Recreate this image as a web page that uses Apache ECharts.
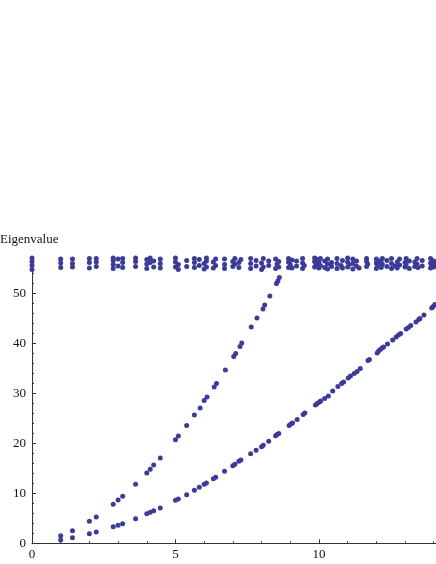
<!DOCTYPE html>
<html>
<head>
<meta charset="utf-8">
<script src="https://cdn.jsdelivr.net/npm/echarts@6/dist/echarts.min.js"></script>
<style>
  html, body { margin: 0; padding: 0; background: #fff; }
  #main { width: 436px; height: 564px; }
</style>
</head>
<body>
<div id="main"></div>
<script>
// lower branch [k, eigenvalue]
let lowerBranch = [
  [1.0, 0.66], [1.41, 1.1], [2.0, 1.93], [2.24, 2.26], [2.83, 3.33], [3.0, 3.6], [3.16, 3.93],
  [3.61, 4.93], [4.0, 5.93], [4.12, 6.2], [4.24, 6.53], [4.47, 7.06], [5.0, 8.6], [5.1, 8.86],
  [5.39, 9.73], [5.66, 10.6], [5.83, 11.2], [6.0, 11.8], [6.08, 12.06], [6.32, 12.9], [6.4, 13.2],
  [6.71, 14.4], [7.0, 15.5], [7.07, 15.8], [7.21, 16.4], [7.28, 16.66], [7.62, 17.9], [7.81, 18.6],
  [8.0, 19.3], [8.06, 19.6], [8.25, 20.4], [8.49, 21.5], [8.54, 21.8], [8.6, 22.0], [8.96, 23.6],
  [9.02, 23.9], [9.08, 24.1], [9.24, 24.8], [9.45, 25.8], [9.51, 26.1], [9.88, 27.7], [9.94, 28.0],
  [10.02, 28.3], [10.06, 28.5], [10.2, 29.0], [10.33, 29.5], [10.48, 30.5], [10.66, 31.4],
  [10.79, 32.0], [10.86, 32.3], [11.02, 33.1], [11.1, 33.5], [11.23, 34.0], [11.33, 34.4],
  [11.44, 35.0], [11.71, 36.6], [11.76, 36.8], [12.03, 38.1], [12.08, 38.5], [12.14, 38.8],
  [12.2, 39.1], [12.25, 39.3], [12.39, 39.9], [12.57, 40.7], [12.69, 41.3], [12.77, 41.7],
  [12.85, 42.0], [13.04, 42.9], [13.12, 43.2], [13.2, 43.6], [13.38, 44.3], [13.48, 44.8],
  [13.52, 45.0], [13.66, 45.7], [13.93, 47.1], [13.98, 47.4], [14.04, 47.8]
];

// upper branch [k, eigenvalue]
let upperBranch = [
  [1.0, 1.5], [1.41, 2.5], [2.0, 4.4], [2.24, 5.26], [2.83, 7.8], [3.0, 8.66], [3.16, 9.4],
  [3.61, 11.8], [4.0, 14.06], [4.12, 14.8], [4.24, 15.66], [4.47, 17.06], [5.0, 20.7], [5.1, 21.46],
  [5.39, 23.6], [5.66, 25.7], [5.86, 27.1], [6.0, 28.6], [6.1, 29.3], [6.35, 31.3], [6.43, 32.0],
  [6.74, 34.7], [7.03, 37.4], [7.1, 38.0], [7.25, 39.4], [7.31, 40.1], [7.64, 43.3], [7.84, 45.1],
  [8.05, 46.9], [8.11, 47.7], [8.29, 49.5], [8.52, 52.0], [8.57, 52.5], [8.62, 53.2]
];

// dense band near the top [k, eigenvalue]
let topBand = [
  [0, 54.8], [0, 55.6], [0, 56.4], [0, 57.1],
  [1.0, 55.2], [1.0, 56.1], [1.0, 56.9], [1.41, 55.3], [1.41, 56.0], [1.41, 56.9],
  [2.0, 55.1], [2.0, 56.2], [2.0, 57.0], [2.24, 55.4], [2.24, 56.3], [2.24, 57.0],
  [2.83, 55.0], [2.83, 55.8], [2.83, 56.6], [2.83, 57.1], [3.0, 55.5], [3.0, 56.9],
  [3.16, 55.2], [3.16, 56.2], [3.16, 57.0], [3.61, 55.4], [3.61, 56.4], [3.61, 57.1],
  [4.0, 55.0], [4.0, 55.9], [4.0, 56.8], [4.12, 56.2], [4.12, 57.1], [4.24, 55.3], [4.24, 56.5],
  [4.47, 55.1], [4.47, 56.0], [4.47, 56.9],
  [5.0, 55.3], [5.0, 56.3], [5.0, 57.1], [5.1, 54.8], [5.1, 55.8], [5.39, 55.4], [5.39, 56.6],
  [5.66, 55.2], [5.66, 56.2], [5.66, 57.0], [5.83, 55.6], [5.83, 56.8], [6.0, 54.9], [6.0, 56.0],
  [6.08, 55.3], [6.08, 56.5], [6.08, 57.1], [6.32, 55.1], [6.32, 56.3], [6.4, 55.6], [6.4, 56.9],
  [6.71, 55.0], [6.71, 55.8], [6.71, 56.9], [7.0, 55.4], [7.0, 56.4], [7.07, 55.9], [7.07, 57.0],
  [7.21, 55.2], [7.21, 56.2], [7.28, 56.8], [7.62, 55.0], [7.62, 56.0], [7.62, 57.0],
  [7.81, 55.5], [7.81, 56.6], [8.0, 54.8], [8.0, 56.1], [8.06, 55.3], [8.06, 57.0],
  [8.25, 55.6], [8.25, 56.5], [8.49, 55.0], [8.49, 56.9], [8.54, 55.9], [8.6, 55.3], [8.6, 56.4],
  [8.94, 55.2], [8.94, 56.3], [8.94, 57.0], [9.0, 55.8], [9.06, 55.1], [9.06, 56.7],
  [9.22, 55.5], [9.22, 56.5], [9.43, 55.0], [9.43, 56.1], [9.43, 57.0], [9.49, 55.6],
  [9.85, 55.3], [9.85, 56.4], [9.85, 57.1], [9.9, 55.9], [9.9, 56.9], [10.0, 55.1], [10.0, 56.3],
  [10.05, 55.6], [10.05, 57.0], [10.2, 55.2], [10.2, 56.5], [10.3, 54.9], [10.3, 55.9], [10.3, 56.9],
  [10.44, 55.4], [10.44, 56.2], [10.63, 55.0], [10.63, 56.0], [10.63, 57.0], [10.77, 55.6],
  [10.82, 55.1], [10.82, 56.6], [11.0, 55.3], [11.0, 56.3], [11.0, 57.1], [11.05, 55.8],
  [11.18, 54.9], [11.18, 56.0], [11.18, 56.9], [11.31, 55.5], [11.31, 56.5], [11.4, 55.1],
  [11.66, 55.4], [11.66, 56.4], [11.66, 57.0], [11.7, 55.9], [12.0, 55.0], [12.0, 56.1], [12.0, 56.9],
  [12.04, 55.6], [12.08, 56.5], [12.17, 55.2], [12.17, 56.2], [12.21, 55.8], [12.21, 57.0],
  [12.37, 55.4], [12.37, 56.6], [12.53, 55.0], [12.53, 56.0], [12.53, 57.0], [12.65, 55.5],
  [12.73, 56.3], [12.73, 55.1], [12.81, 55.7], [12.81, 56.9], [13.0, 55.3], [13.0, 56.2],
  [13.04, 55.8], [13.04, 57.0], [13.15, 55.0], [13.15, 56.5], [13.34, 55.4], [13.34, 56.3],
  [13.42, 55.9], [13.42, 57.0], [13.45, 55.2], [13.6, 55.5], [13.6, 56.6], [13.89, 55.1],
  [13.89, 56.1], [13.89, 57.0], [13.93, 55.7], [14.0, 55.3], [14.0, 56.5], [14.04, 55.9]
];

let dotColor = '#3b3b98';
let axisColor = '#333';
let labelFont = { fontFamily: 'Liberation Serif', fontSize: 13, color: '#111' };

let chart = echarts.init(document.getElementById('main'));

function scatter(data) {
  return {
    type: 'scatter',
    data: data,
    symbolSize: 5,
    itemStyle: { color: dotColor, opacity: 1 },
    xAxisIndex: 0,
    yAxisIndex: 0
  };
}

let option = {
  animation: false,
  title: {
    text: 'Eigenvalue',
    left: 0,
    top: 233,
    padding: 0,
    textStyle: { fontFamily: 'Liberation Serif', fontSize: 13, fontWeight: 'normal', color: '#111' }
  },
  grid: { left: 32, right: 0, top: 256.5, bottom: 20.7 },
  xAxis: [{
    type: 'value', min: 0, max: 14.08, interval: 5, position: 'bottom',
    axisLine: { lineStyle: { color: axisColor, width: 1 } },
    axisTick: { inside: true, length: 4, lineStyle: { color: axisColor } },
    axisLabel: Object.assign({ margin: 5, showMaxLabel: false }, labelFont),
    splitLine: { show: false }
  }, {
    // minor ticks every 1
    type: 'value', min: 0, max: 14.08, interval: 1, position: 'bottom',
    axisLine: { show: false },
    axisTick: { inside: true, length: 2, lineStyle: { color: axisColor } },
    axisLabel: { show: false },
    splitLine: { show: false }
  }],
  yAxis: [{
    type: 'value', min: 0, max: 57.4, interval: 10, position: 'left',
    axisLine: { show: true, lineStyle: { color: axisColor, width: 1 } },
    axisTick: { show: true, inside: true, length: 4, lineStyle: { color: axisColor } },
    axisLabel: Object.assign({ margin: 6, showMaxLabel: false }, labelFont),
    splitLine: { show: false }
  }, {
    // minor ticks every 2
    type: 'value', min: 0, max: 57.4, interval: 2, position: 'left',
    axisLine: { show: false },
    axisTick: { show: true, inside: true, length: 2, lineStyle: { color: axisColor } },
    axisLabel: { show: false },
    splitLine: { show: false }
  }],
  series: [scatter(topBand), scatter(upperBranch), scatter(lowerBranch)]
};

chart.setOption(option);
</script>
</body>
</html>
